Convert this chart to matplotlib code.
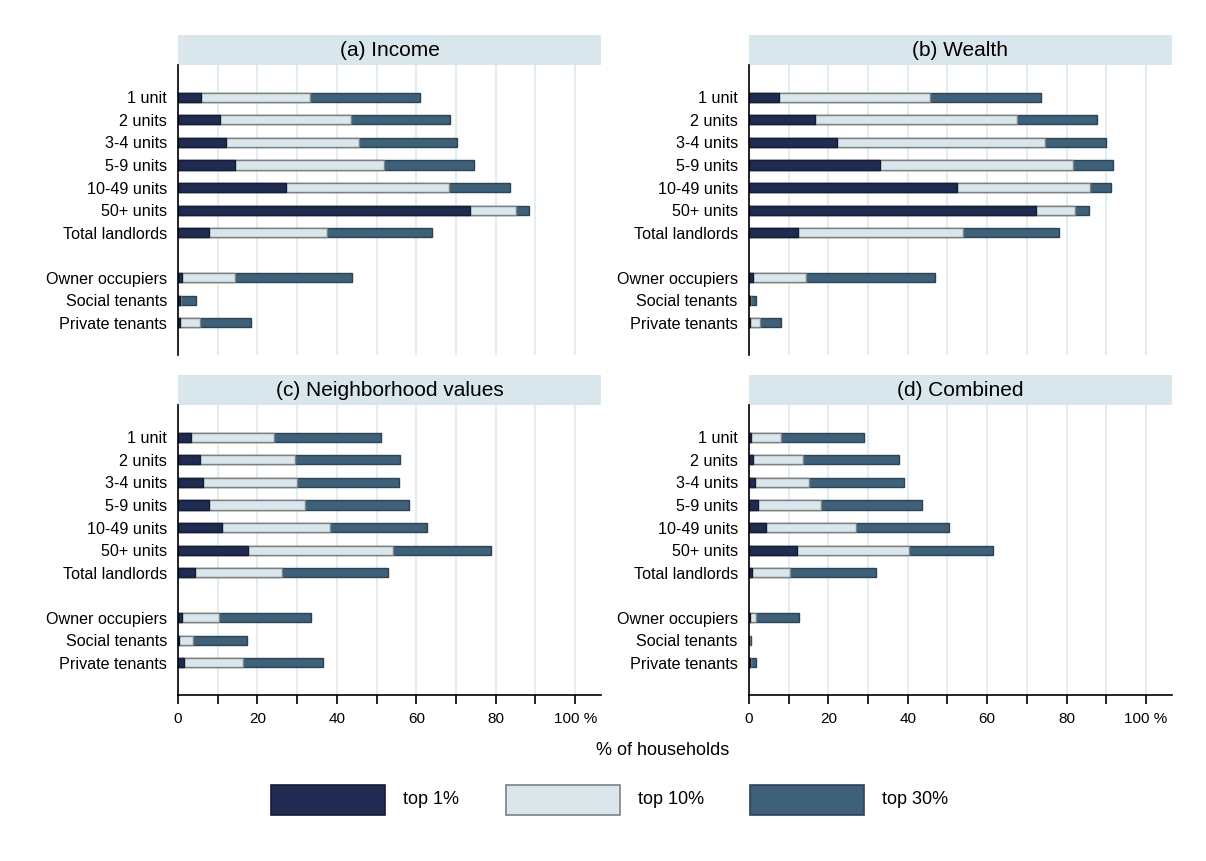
import numpy as np
import matplotlib.pyplot as plt
from matplotlib.patches import Rectangle

plt.rcParams['font.family'] = ['Liberation Sans', 'DejaVu Sans']

categories = ['1 unit', '2 units', '3-4 units', '5-9 units', '10-49 units', '50+ units',
              'Total landlords', 'Owner occupiers', 'Social tenants', 'Private tenants']
ypos = [0, 1, 2, 3, 4, 5, 6, 8, 9, 10]

panel_titles = ['(a) Income', '(b) Wealth', '(c) Neighborhood values', '(d) Combined']

# share of households in top 1% / top 10% / top 30% (cumulative)
income_top1 = [5.7, 10.5, 12.0, 14.3, 27.1, 73.6, 7.8, 1.1, 0.4, 0.4]
income_top10 = [33.3, 43.5, 45.6, 51.8, 68.2, 85.0, 37.5, 14.3, 0.7, 5.5]
income_top30 = [61.0, 68.6, 70.2, 74.5, 83.6, 88.4, 64.0, 43.7, 4.6, 18.3]

wealth_top1 = [7.6, 16.6, 22.2, 33.0, 52.4, 72.2, 12.4, 0.9, 0.25, 0.3]
wealth_top10 = [45.6, 67.5, 74.6, 81.5, 86.0, 82.2, 53.8, 14.4, 0.5, 2.8]
wealth_top30 = [73.5, 87.7, 89.9, 91.8, 91.2, 85.7, 78.2, 46.8, 1.8, 8.0]

neigh_top1 = [3.3, 5.6, 6.2, 7.7, 11.2, 17.6, 4.3, 0.9, 0.3, 1.5]
neigh_top10 = [24.2, 29.4, 30.0, 32.0, 38.3, 54.1, 26.1, 10.4, 3.9, 16.4]
neigh_top30 = [51.0, 55.8, 55.7, 58.1, 62.7, 78.7, 52.8, 33.5, 17.3, 36.5]

comb_top1 = [0.4, 0.9, 1.5, 2.2, 4.2, 12.2, 0.8, 0.25, 0.1, 0.25]
comb_top10 = [8.1, 13.7, 15.2, 18.2, 26.9, 40.2, 10.3, 1.8, 0.25, 0.5]
comb_top30 = [28.9, 37.9, 39.1, 43.6, 50.3, 61.4, 32.1, 12.5, 0.4, 1.9]

panels = [
    (income_top1, income_top10, income_top30),
    (wealth_top1, wealth_top10, wealth_top30),
    (neigh_top1, neigh_top10, neigh_top30),
    (comb_top1, comb_top10, comb_top30),
]

c_dark, e_dark = '#1f2b50', '#141c36'
c_light, e_light = '#d9e6ec', '#808080'
c_mid, e_mid = '#3e6079', '#2b4356'
strip_color = '#d9e6ec'
grid_color = '#e4eef1'

fig = plt.figure(figsize=(12.06, 8.61), dpi=100)

lefts = [0.1476, 0.621]
bottoms = [0.5877, 0.1928]
w, h = 0.3507, 0.3365

for i, (top1, top10, top30) in enumerate(panels):
    ax = fig.add_axes([lefts[i % 2], bottoms[i // 2], w, h])
    bh = 0.4
    ax.barh(ypos, top30, height=bh, color=c_mid, edgecolor=e_mid, linewidth=1)
    ax.barh(ypos, top10, height=bh, color=c_light, edgecolor=e_light, linewidth=1)
    ax.barh(ypos, top1, height=bh, color=c_dark, edgecolor=e_dark, linewidth=1)

    ax.set_xlim(0, 106.5)
    ax.set_ylim(11.42, -1.42)
    ax.set_yticks(ypos)
    ax.set_yticklabels(categories, fontsize=11.6)
    ax.tick_params(axis='y', length=0, pad=8)

    ax.set_xticks(np.arange(0, 101, 10))
    ax.xaxis.grid(True, color=grid_color, linewidth=1.5)
    ax.set_axisbelow(True)
    for s in ['top', 'right']:
        ax.spines[s].set_visible(False)
    ax.spines['left'].set_linewidth(1.2)

    if i // 2 == 0:
        ax.spines['bottom'].set_visible(False)
        ax.tick_params(axis='x', length=0, labelbottom=False)
    else:
        ax.spines['bottom'].set_linewidth(1.2)
        ax.tick_params(axis='x', length=6.5, width=1.2, labelsize=11, pad=6)
        ax.set_xticklabels(['0', '', '20', '', '40', '', '60', '', '80', '', '100 %'])

    ax.add_patch(Rectangle((0, 1), 1, 0.103, transform=ax.transAxes,
                           facecolor=strip_color, edgecolor='none', clip_on=False))
    ax.text(0.5, 1.0515, panel_titles[i], transform=ax.transAxes,
            ha='center', va='center', fontsize=15)

fig.text(663 / 1206, 0.128, '% of households', ha='center', va='center', fontsize=13)

# legend
legend_labels = ['top 1%', 'top 10%', 'top 30%']
legend_fc = [c_dark, c_light, c_mid]
legend_ec = [e_dark, e_light, e_mid]
box_x = [271, 506, 750]
for bx, lab, fc, ec in zip(box_x, legend_labels, legend_fc, legend_ec):
    fig.patches.append(Rectangle((bx / 1206, 1 - 815 / 861), 114 / 1206, 30 / 861,
                                 transform=fig.transFigure, facecolor=fc,
                                 edgecolor=ec, linewidth=1.2))
    fig.text((bx + 132) / 1206, 1 - 800 / 861, lab, ha='left', va='center', fontsize=13)

fig.savefig('out.png', dpi=100)
